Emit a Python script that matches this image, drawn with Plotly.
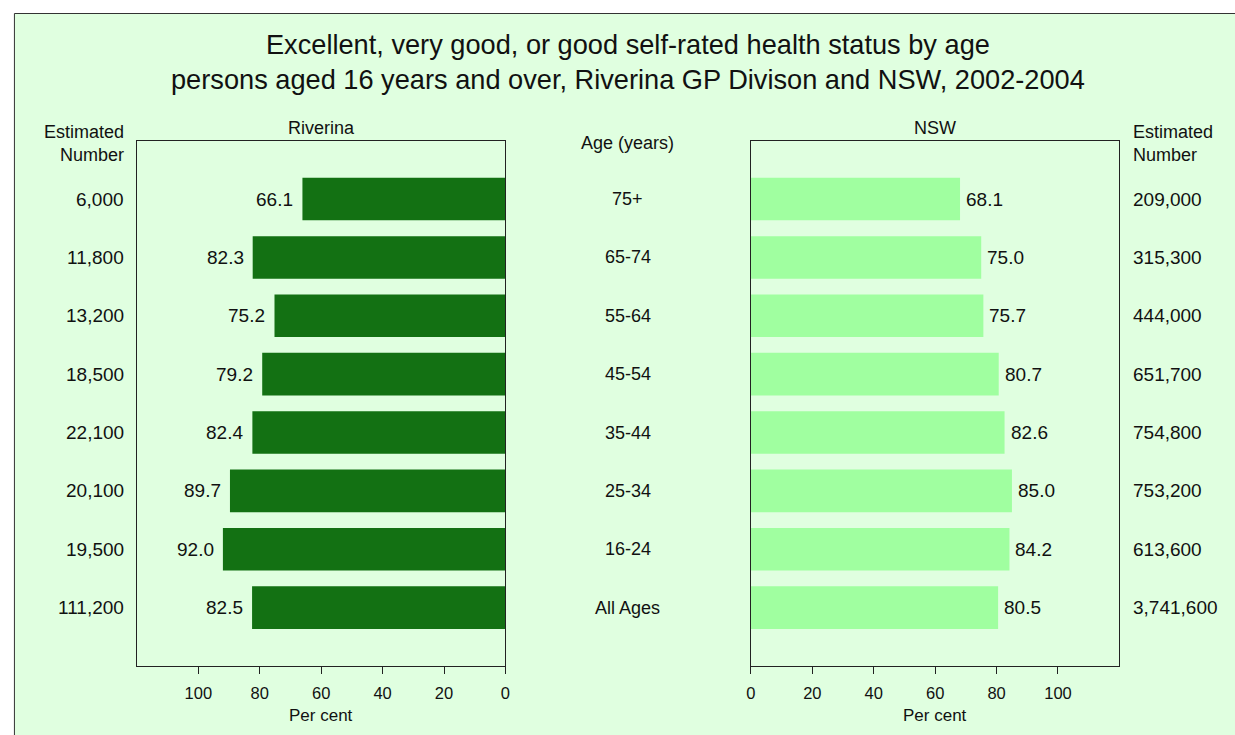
import plotly.graph_objects as go

# ---- data ----
ages = ["75+", "65-74", "55-64", "45-54", "35-44", "25-34", "16-24", "All Ages"]
riverina_pct = [66.1, 82.3, 75.2, 79.2, 82.4, 89.7, 92.0, 82.5]
nsw_pct = [68.1, 75.0, 75.7, 80.7, 82.6, 85.0, 84.2, 80.5]
riverina_est = ["6,000", "11,800", "13,200", "18,500", "22,100", "20,100", "19,500", "111,200"]
nsw_est = ["209,000", "315,300", "444,000", "651,700", "754,800", "753,200", "613,600", "3,741,600"]
x_ticks = [0, 20, 40, 60, 80, 100]

title_lines = ["Excellent, very good, or good self-rated health status by age",
               "persons aged 16 years and over, Riverina GP Divison and NSW, 2002-2004"]

W, H = 1235, 735
FONT = "Arial, Liberation Sans, sans-serif"
FS = 18
FS_NUM = 19
FS_TICK = 16.5
DARK = "#137113"
LIGHT = "#A0FFA0"
BG = "#E0FFE0"


def px(x):
    return x / W


def py(y):
    return 1 - y / H


left_dom = [px(133), px(504.5)]
right_dom = [px(752), px(1123.5)]
y_dom = [py(666), py(140.7)]

fig = go.Figure()
fig.add_trace(go.Bar(x=riverina_pct, y=ages, orientation="h", marker=dict(color=DARK, line=dict(width=0)),
                     xaxis="x", yaxis="y", hoverinfo="x+y"))
fig.add_trace(go.Bar(x=nsw_pct, y=ages, orientation="h", marker=dict(color=LIGHT, line=dict(width=0)),
                     xaxis="x2", yaxis="y2", hoverinfo="x+y"))

axis_common = dict(showline=True, mirror=True, linecolor="#222", linewidth=1, showgrid=False,
                   zeroline=False, tickfont=dict(family=FONT, size=FS_TICK, color="#111"))
xax = dict(axis_common, tickvals=x_ticks, ticks="outside", ticklen=7, tickcolor="#222",
           ticklabelstandoff=5)
yax = dict(axis_common, type="category", categoryorder="array", categoryarray=ages[::-1],
           range=[-1, 8], showticklabels=False, ticks="", domain=y_dom)

fig.update_layout(
    width=W, height=H,
    margin=dict(l=0, r=0, t=0, b=0),
    paper_bgcolor="white", plot_bgcolor="white",
    showlegend=False, bargap=0.27,
    font=dict(family=FONT, size=FS, color="#111"),
    xaxis=dict(xax, domain=left_dom, range=[120, 0], anchor="y"),
    yaxis=dict(yax, anchor="x"),
    xaxis2=dict(xax, domain=right_dom, range=[0, 120], anchor="y2"),
    yaxis2=dict(yax, anchor="x2"),
)

fig.add_shape(type="rect", xref="paper", yref="paper", x0=px(9.5), x1=1.2, y0=-0.2, y1=py(13.5),
              fillcolor=BG, line=dict(color="#333", width=1), layer="below")

ann = []
num_font = dict(size=FS_NUM)
# value labels
for a, v in zip(ages, riverina_pct):
    ann.append(dict(x=v, y=a, xref="x", yref="y", text=f"{v:.1f}", xanchor="right", xshift=-7,
                    showarrow=False, font=num_font))
for a, v in zip(ages, nsw_pct):
    ann.append(dict(x=v, y=a, xref="x2", yref="y2", text=f"{v:.1f}", xanchor="left", xshift=4,
                    showarrow=False, font=num_font))
# estimated numbers and age labels
for a, e in zip(ages, riverina_est):
    ann.append(dict(x=px(122), y=a, xref="paper", yref="y", text=e, xanchor="right", showarrow=False,
                    font=num_font))
for a, e in zip(ages, nsw_est):
    ann.append(dict(x=px(1135), y=a, xref="paper", yref="y", text=e, xanchor="left", showarrow=False,
                    font=num_font))
for a in ages:
    ann.append(dict(x=px(628), y=a, xref="paper", yref="y", text=a, xanchor="center", showarrow=False))

# headers
ann += [
    dict(x=(left_dom[0] + left_dom[1]) / 2, y=py(128), text="Riverina"),
    dict(x=(right_dom[0] + right_dom[1]) / 2, y=py(128), text="NSW"),
    dict(x=px(122), y=py(143), text="Estimated<br>Number", xanchor="right", align="right"),
    dict(x=px(1135), y=py(143), text="Estimated<br>Number", xanchor="left", align="left"),
    dict(x=px(628), y=py(143), text="Age (years)"),
    dict(x=(left_dom[0] + left_dom[1]) / 2, y=py(715), text="Per cent", font=dict(size=17)),
    dict(x=(right_dom[0] + right_dom[1]) / 2, y=py(715), text="Per cent", font=dict(size=17)),
    dict(x=px(628), y=py(62), text="<br>".join(title_lines), font=dict(size=27.2, family=FONT, color="#111")),
]
for a in ann[-8:]:
    a.setdefault("xref", "paper")
    a.setdefault("yref", "paper")
    a.setdefault("xanchor", "center")
    a["yanchor"] = "middle"
    a["showarrow"] = False

fig.update_layout(annotations=ann)
fig.write_html("out.html", config={"displayModeBar": False},
               post_script="document.body.style.margin='0';document.body.style.overflow='hidden';")
